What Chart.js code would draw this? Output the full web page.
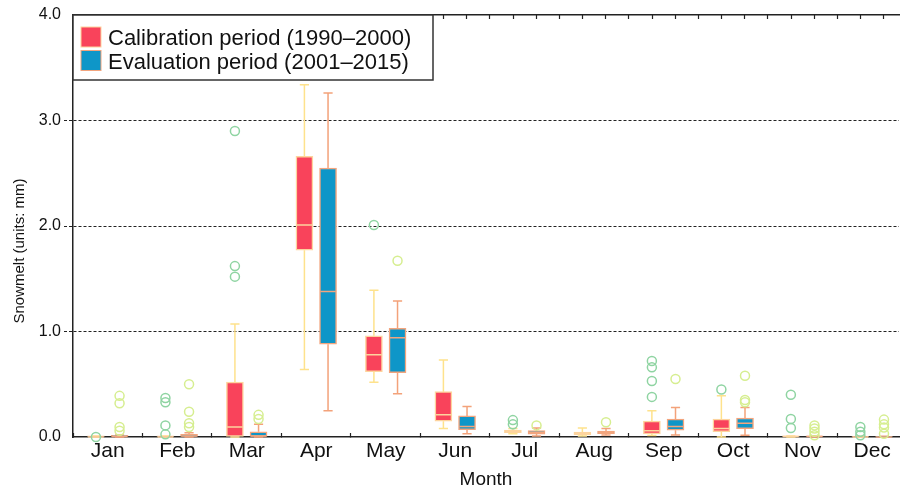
<!DOCTYPE html>
<html>
<head>
<meta charset="utf-8">
<script src="https://cdn.jsdelivr.net/npm/chart.js@4.4.1/dist/chart.umd.min.js"></script>
<style>
  html, body { margin: 0; padding: 0; background: #fff; overflow: hidden; }
  #chart { display: block; }
</style>
</head>
<body>
<canvas id="chart" width="905" height="487"></canvas>
<script>
const months = ['Jan', 'Feb', 'Mar', 'Apr', 'May', 'Jun', 'Jul', 'Aug', 'Sep', 'Oct', 'Nov', 'Dec'];
const seriesLabels = ['Calibration period (1990\u20132000)', 'Evaluation period (2001\u20132015)'];
const yTicks = [0, 1, 2, 3, 4];

// Calibration period (1990-2000)
const calMin = [0, 0, 0, 0.64, 0.52, 0.08, 0.03, 0.01, 0.015, 0, 0, 0];
const calQ1  = [0, 0, 0, 1.77, 0.62, 0.15, 0.042, 0.023, 0.03, 0.05, 0, 0];
const calMed = [0, 0, 0.095, 2.01, 0.78, 0.21, 0.055, 0.035, 0.06, 0.08, 0.005, 0];
const calQ3  = [0.01, 0.01, 0.52, 2.66, 0.96, 0.43, 0.066, 0.047, 0.15, 0.17, 0.01, 0.006];
const calMax = [0.01, 0.01, 1.07, 3.34, 1.39, 0.73, 0.08, 0.085, 0.25, 0.39, 0.01, 0.006];
const calOutliers = [[0], [0.37, 0.33, 0.11, 0.025], [2.90, 1.62, 1.52], [], [2.01], [],
  [0.16, 0.12], [], [0.72, 0.66, 0.53, 0.38], [0.45], [0.40, 0.17, 0.085], [0.095, 0.05, 0.016]];

// Evaluation period (2001-2015)
const evaMin = [0, 0, 0, 0.25, 0.41, 0.03, 0.01, 0.02, 0.02, 0.016, 0, 0];
const evaQ1  = [0, 0, 0, 0.88, 0.61, 0.07, 0.028, 0.032, 0.064, 0.08, 0, 0];
const evaMed = [0.005, 0.01, 0.01, 1.38, 0.94, 0.10, 0.04, 0.045, 0.10, 0.13, 0.005, 0];
const evaQ3  = [0.015, 0.025, 0.05, 2.55, 1.03, 0.20, 0.06, 0.057, 0.17, 0.18, 0.01, 0.006];
const evaMax = [0.02, 0.04, 0.12, 3.26, 1.29, 0.29, 0.085, 0.08, 0.28, 0.28, 0.01, 0.006];
const evaOutliers = [[0.39, 0.32, 0.095, 0.06], [0.50, 0.24, 0.13, 0.095], [0.21, 0.17], [], [1.67], [],
  [0.11], [0.14], [0.55], [0.58, 0.35, 0.33], [0.11, 0.08, 0.05, 0.016], [0.165, 0.12, 0.09, 0.03]];

const FONT = "'Liberation Sans', Arial, Helvetica, sans-serif";
const INK = '#222';

const calColors = { fill: '#f9435b', edge: '#fdd49e', whisker: '#fee28c', median: '#fdd49e', outlier: '#8fd4a2' };
const evaColors = { fill: '#0e96c8', edge: '#f2a57e', whisker: '#f3a27a', median: '#f2a57e', outlier: '#d6ee90' };

// box, whiskers, median and outliers of one period as Chart.js datasets
function boxDatasets(label, shift, mins, q1s, meds, q3s, maxs, outliers, c) {
  const cap = 0.066, half = 0.112;
  const boxes = [], whiskers = [], medians = [], points = [];
  months.forEach((m, i) => {
    const x = i + 1 + shift;
    boxes.push({ x: x, y: [q1s[i], q3s[i]] });
    whiskers.push({ x: x, y: mins[i] }, { x: x, y: q1s[i] }, { x: x, y: null },
      { x: x, y: q3s[i] }, { x: x, y: maxs[i] }, { x: x, y: null },
      { x: x - cap, y: mins[i] }, { x: x + cap, y: mins[i] }, { x: x, y: null },
      { x: x - cap, y: maxs[i] }, { x: x + cap, y: maxs[i] }, { x: x, y: null });
    medians.push({ x: x - half, y: meds[i] }, { x: x + half, y: meds[i] }, { x: x, y: null });
    outliers[i].forEach(v => points.push({ x: x, y: v }));
  });
  const line = { type: 'line', showLine: true, spanGaps: false, pointRadius: 0, tension: 0, clip: false, borderWidth: 1.5 };
  return [
    { ...line, label: label + ' whiskers', data: whiskers, borderColor: c.whisker, order: 4 },
    { type: 'bar', label: label, data: boxes, backgroundColor: c.fill, borderColor: c.edge,
      borderWidth: 1.5, borderSkipped: false, grouped: false, barPercentage: 1, categoryPercentage: 1,
      maxBarThickness: 17, clip: false, order: 3 },
    { ...line, label: label + ' median', data: medians, borderColor: c.median, order: 2 },
    { type: 'scatter', label: label + ' outliers', data: points, pointStyle: 'circle', pointRadius: 4.5,
      pointBorderWidth: 1.5, borderColor: c.outlier, backgroundColor: 'rgba(0,0,0,0)', clip: false, order: 1 }
  ];
}

const datasets = [
  ...boxDatasets(seriesLabels[0], -0.17, calMin, calQ1, calMed, calQ3, calMax, calOutliers, calColors),
  ...boxDatasets(seriesLabels[1], 0.17, evaMin, evaQ1, evaMed, evaQ3, evaMax, evaOutliers, evaColors)
];

const X_MIN = 0.5, X_MAX = 12.386;

// legend box and rotated y title
const overlays = {
  id: 'overlays',
  beforeDatasetsDraw(chart) {
    const ctx = chart.ctx;
    const a = chart.chartArea;
    ctx.save();
    ctx.fillStyle = '#fff';
    ctx.fillRect(a.left, a.top, 360, 65);
    ctx.strokeStyle = '#333';
    ctx.lineWidth = 1.5;
    ctx.strokeRect(a.left, a.top, 360, 65);
    [calColors, evaColors].forEach((c, i) => {
      const y = a.top + 12 + i * 23.5;
      ctx.fillStyle = c.fill;
      ctx.fillRect(a.left + 8, y, 20, 20);
      ctx.strokeStyle = c.edge;
      ctx.lineWidth = 1;
      ctx.strokeRect(a.left + 8, y, 20, 20);
      ctx.fillStyle = '#111';
      ctx.font = '22px ' + FONT;
      ctx.textBaseline = 'alphabetic';
      ctx.textAlign = 'left';
      ctx.fillText(seriesLabels[i], a.left + 35, y + 18);
    });
    ctx.restore();
  },
  afterDraw(chart) {
    const ctx = chart.ctx;
    ctx.save();
    ctx.translate(20, 251);
    ctx.rotate(-Math.PI / 2);
    ctx.font = '15px ' + FONT;
    ctx.fillStyle = '#111';
    ctx.textAlign = 'center';
    ctx.textBaseline = 'middle';
    ctx.fillText('Snowmelt (units: mm)', 0, 0);
    ctx.restore();
  }
};

new Chart(document.getElementById('chart'), {
  type: 'scatter',
  data: { datasets: datasets },
  plugins: [overlays],
  options: {
    responsive: false,
    animation: false,
    layout: { padding: 0 },
    plugins: { legend: { display: false }, tooltip: { enabled: false } },
    scales: {
      x: {
        type: 'linear', position: 'bottom', min: X_MIN, max: X_MAX, offset: false,
        afterBuildTicks: axis => {
          const t = [];
          for (let k = 1; k <= 24; k++) t.push({ value: k / 2 });
          axis.ticks = t;
        },
        afterFit: s => { s.height = 50; },
        ticks: {
          autoSkip: false, maxRotation: 0, minRotation: 0, padding: 6,
          color: '#111', font: { family: FONT, size: 21 },
          callback: v => Number.isInteger(v) ? months[v - 1] : ''
        },
        grid: {
          offset: false, drawOnChartArea: false, drawTicks: true, tickLength: -4, tickWidth: 1.2,
          tickColor: c => (c.tick && !Number.isInteger(c.tick.value)) ? INK : 'rgba(0,0,0,0)'
        },
        border: { display: true, color: INK, width: 1.5 },
        title: { display: true, text: 'Month', color: '#111', font: { family: FONT, size: 19 }, padding: { top: 0, bottom: -4 } }
      },
      x2: {
        type: 'linear', position: 'top', min: X_MIN, max: X_MAX, offset: false, z: 1,
        afterBuildTicks: axis => {
          const t = [];
          for (let k = 0; X_MIN + k / 3 <= X_MAX; k++) t.push({ value: X_MIN + k / 3 });
          axis.ticks = t;
        },
        afterFit: s => { s.height = 15; },
        ticks: { display: false },
        grid: { drawOnChartArea: false, drawTicks: true, tickLength: -4, tickWidth: 1.2, tickColor: INK },
        border: { display: true, color: INK, width: 1.5 }
      },
      y: {
        type: 'linear', min: 0, max: 4,
        afterBuildTicks: axis => { axis.ticks = yTicks.map(v => ({ value: v })); },
        afterFit: s => { s.width = 73; },
        ticks: { padding: 3, color: '#111', font: { family: FONT, size: 16 }, callback: v => v.toFixed(1) },
        grid: {
          color: c => (c.tick && c.tick.value > 0 && c.tick.value < 4) ? INK : 'rgba(0,0,0,0)',
          lineWidth: 1, tickLength: 9, tickBorderDash: [3, 2]
        },
        border: { display: true, color: INK, width: 1.5, dash: [3, 2] }
      }
    }
  }
});
</script>
</body>
</html>
